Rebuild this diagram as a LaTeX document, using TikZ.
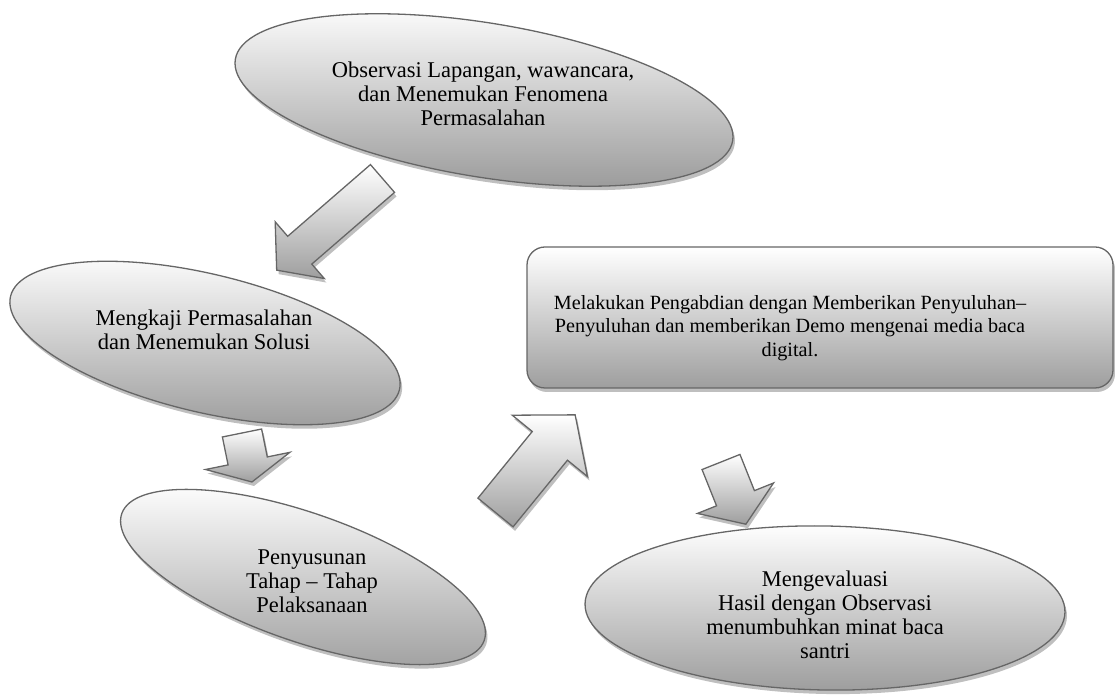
\documentclass[tikz,border=0pt]{standalone}
\usepackage{fontspec}
\setmainfont{Liberation Serif}
\usetikzlibrary{shapes.geometric}
\newcommand{\blockarrow}[6]{%
  % #1 tail middle, #2 angle, #3 length, #4 shaft half width, #5 head half width, #6 head length
  \begin{scope}[shift={(#1)}]
    \begin{scope}[shift={(2,-4)},rotate=#2]
      \fill[shadowc] (0,-#4) -- ({#3-#6},-#4) -- ({#3-#6},-#5) -- (#3,0) -- ({#3-#6},#5) -- ({#3-#6},#4) -- (0,#4) -- cycle;
    \end{scope}
    \begin{scope}[rotate=#2]
      \draw[shapebase] (0,-#4) -- ({#3-#6},-#4) -- ({#3-#6},-#5) -- (#3,0) -- ({#3-#6},#5) -- ({#3-#6},#4) -- (0,#4) -- cycle;
    \end{scope}
  \end{scope}}
\begin{document}
\begin{tikzpicture}[x=1pt,y=1pt,
  shapebase/.style={draw=black!60, line width=1.3pt, line join=miter, top color=white, bottom color=black!38},
  shadowc/.style={fill=black!25},
  oval/.style={ellipse, inner sep=0pt, shapebase},
  ovalshadow/.style={ellipse, inner sep=0pt, shadowc},
  lbl/.style={align=center, font=\fontsize{22.5}{24}\selectfont, inner sep=0pt, text=black}]
\useasboundingbox (0,0) rectangle (1115,695);

% top ellipse
\node[ovalshadow, minimum width=504, minimum height=154, rotate=-9.3] (obsShadow) at (486,591) {};
\node[oval, minimum width=504, minimum height=154, rotate=-9.3] (obsShape) at (484,595) {};
\node[lbl] (obs) at (483,601) {Observasi Lapangan, wawancara,\\dan Menemukan Fenomena\\Permasalahan};

% Mengkaji ellipse
\node[ovalshadow, minimum width=400, minimum height=138, rotate=-13.5] (kajiShadow) at (207,348) {};
\node[oval, minimum width=400, minimum height=138, rotate=-13.5] (kajiShape) at (205,352) {};
\node[lbl] (kaji) at (204,365) {Mengkaji Permasalahan\\dan Menemukan Solusi};

% Penyusunan ellipse
\node[ovalshadow, minimum width=384, minimum height=128, rotate=-19.3] (susunShadow) at (305,114) {};
\node[oval, minimum width=384, minimum height=128, rotate=-19.3] (susunShape) at (303,118) {};
\node[lbl] (susun) at (312,114) {Penyusunan\\Tahap -- Tahap\\Pelaksanaan};

% Mengevaluasi ellipse
\node[ovalshadow, minimum width=480, minimum height=164, rotate=-1] (evalShadow) at (827,83) {};
\node[oval, minimum width=480, minimum height=164, rotate=-1] (evalShape) at (825,87) {};
\node[lbl] (eval) at (825,80.5) {Mengevaluasi\\Hasil dengan Observasi\\menumbuhkan minat baca\\santri};

% rounded rectangle
\fill[shadowc, rounded corners=18pt] (529,303) rectangle (1115,444);
\node[shapebase, rounded corners=18pt, minimum width=586, minimum height=141, inner sep=0pt] (rectShape) at (820,377.5) {};
\node[lbl, font=\fontsize{20.2}{23.5}\selectfont] (rect) at (790,367) {Melakukan Pengabdian dengan Memberikan Penyuluhan–\\Penyuluhan dan memberikan Demo mengenai media baca\\digital.};

% block arrows
\blockarrow{382.5,516.5}{220.9}{140}{18.4}{37.5}{30.5}
\blockarrow{242,262}{281.5}{50}{20}{43}{21.5}
\blockarrow{495.5,182.5}{50.8}{126}{22.7}{48.5}{40}
\blockarrow{721,233}{-68.2}{67}{20.4}{41}{28}
\end{tikzpicture}
\end{document}
